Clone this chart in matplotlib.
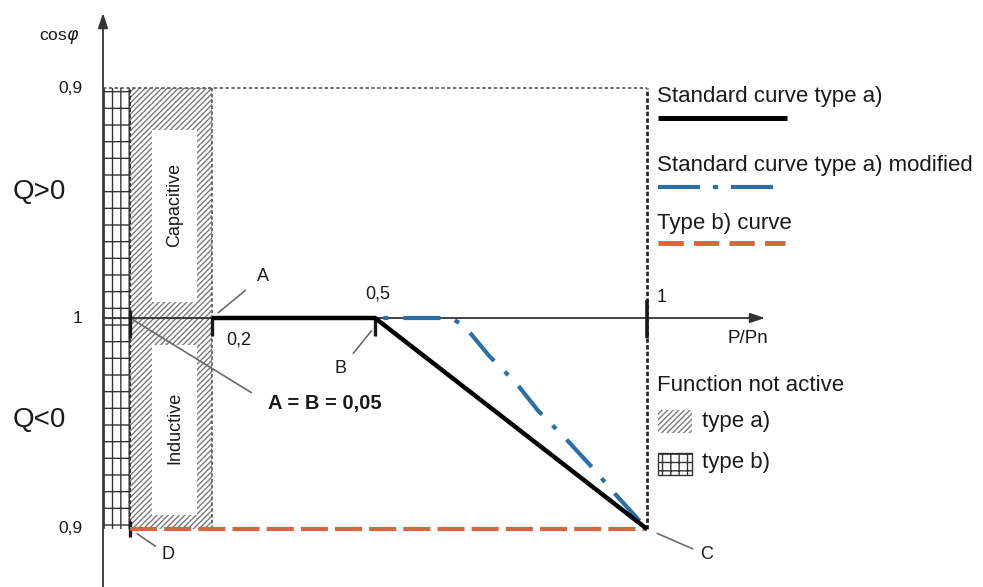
import numpy as np
import matplotlib.pyplot as plt
from matplotlib.patches import Rectangle

plt.rcParams['font.family'] = ['Liberation Sans', 'DejaVu Sans']
plt.rcParams['hatch.linewidth'] = 1.0

# P/Pn on x, cos(phi) as deviation from 1 on y (+ capacitive, - inductive)
STD_X = [0.2, 0.5, 1.0]
STD_Y = [0.0, 0.0, -0.1]
MOD_X = [0.5, 0.64, 0.665, 0.71, 0.76, 0.80, 0.85, 0.90, 0.94, 1.0]
MOD_Y = [0.0, 0.0, -0.004, -0.018, -0.031, -0.044, -0.057, -0.071, -0.083, -0.1]
TYPEB_X = [0.05, 1.0]
TYPEB_Y = [-0.1, -0.1]

P_OFF_B = 0.05   # type b) not active below this
P_OFF_A = 0.2    # type a) not active below this
COS_DEV = 0.1    # cos phi = 0,9

X_TICKS = [0.2, 0.5, 1.0]
X_TICK_LABELS = ['0,2', '0,5', '1']
Y_TICKS = [0.1, 0.0, -0.1]
Y_TICK_LABELS = ['0,9', '1', '0,9']

INK = '#1a1a1a'
BLUE = '#2c6fa6'
ORANGE = '#d8653d'

# capacitive half is drawn a little taller than the inductive half
UP = 230 / 211


def fwd(y):
    y = np.asarray(y, dtype=float)
    return np.where(y > 0, y * UP, y)


def inv(v):
    v = np.asarray(v, dtype=float)
    return np.where(v > 0, v / UP, v)


fig = plt.figure(figsize=(9.83, 5.87), dpi=100)
ax = fig.add_axes([0, 0, 1, 1])
ax.set_yscale('function', functions=(fwd, inv))
ax.set_xlim(-0.18934, 1.61765)
ax.set_ylim(-0.12749, 0.13827)
ax.axis('off')

# zones where the function is not active
ax.add_patch(Rectangle((P_OFF_B, -COS_DEV), P_OFF_A - P_OFF_B, 2 * COS_DEV,
                       facecolor='white', edgecolor='#7a7a7a', hatch='//////',
                       lw=0, zorder=1))
ax.add_patch(Rectangle((0, -COS_DEV), P_OFF_B, 2 * COS_DEV,
                       facecolor='white', edgecolor='#333333', hatch='||',
                       lw=0, zorder=1))
ax.add_patch(Rectangle((0, -COS_DEV), P_OFF_B, 2 * COS_DEV,
                       fill=False, edgecolor='#333333', hatch='-',
                       lw=0, zorder=1))

# white label panels inside the hatched zone
ax.add_patch(Rectangle((0.09, 0.007), 0.083, 0.0747,
                       facecolor='white', lw=0, zorder=2))
ax.add_patch(Rectangle((0.09, -0.0934), 0.083, 0.0806,
                       facecolor='white', lw=0, zorder=2))
ax.text(0.1315, 0.049, 'Capacitive', rotation=90, ha='center', va='center',
        fontsize=13, color=INK, zorder=3)
ax.text(0.1315, -0.052, 'Inductive', rotation=90, ha='center', va='center',
        fontsize=13, color=INK, zorder=3)

# zone borders and the cos phi = 0,9 frame
ax.vlines(P_OFF_B, -COS_DEV, COS_DEV, colors='#333333', lw=1.4,
          linestyles=(0, (2, 1.2)), zorder=3)
ax.vlines(P_OFF_A, -COS_DEV, COS_DEV, colors='#555555', lw=1.2,
          linestyles=(0, (2, 1.5)), zorder=3)
ax.hlines(COS_DEV, 0, 1.0, colors='#555555', lw=1.2,
          linestyles=(0, (2, 1.5)), zorder=3)
ax.hlines(0, 0, P_OFF_A, colors='#555555', lw=1.0,
          linestyles=(0, (2, 1.5)), zorder=3)
ax.vlines(1.0, -COS_DEV, COS_DEV, colors='#2a2a2a', lw=2.0,
          linestyles=(0, (1.6, 0.8)), zorder=3)

# axes with arrow heads
arrow = dict(arrowstyle='-|>,head_length=0.9,head_width=0.3', color='#333333',
             lw=1.3, shrinkA=0, shrinkB=0)
ax.annotate('', xy=(0, 0.1326), xytext=(0, -0.1275), arrowprops=arrow, zorder=4)
ax.annotate('', xy=(1.217, 0), xytext=(0, 0), arrowprops=arrow, zorder=4)

# short tick marks at the key points
ax.vlines([P_OFF_B], -0.0095, 0.0035, colors=INK, lw=2.4, zorder=5)
ax.vlines([P_OFF_A, 0.5], -0.0085, 0.0, colors=INK, lw=2.4, zorder=5)
ax.vlines([1.0], -0.0095, 0.008, colors=INK, lw=2.6, zorder=5)
ax.vlines([P_OFF_B], -0.104, -0.096, colors=INK, lw=2.4, zorder=5)

# curves
ax.plot(TYPEB_X, TYPEB_Y, color=ORANGE, lw=3.0,
        linestyle=(0, (6.5, 1.7)), zorder=6)
ax.plot(MOD_X, MOD_Y, color=BLUE, lw=3.0,
        linestyle=(10.5, (8.9, 3.6, 1.2, 3.6)), zorder=6)
ax.plot(STD_X, STD_Y, color='black', lw=3.2, solid_capstyle='butt', zorder=7)

# tick labels
for x, lab, off in zip(X_TICKS, X_TICK_LABELS, [(27, -22), (3, 24), (15, 21)]):
    ax.annotate(lab, xy=(x, 0), xytext=off, textcoords='offset pixels',
                ha='center', va='center', fontsize=13, color=INK)
for y, lab in zip(Y_TICKS, Y_TICK_LABELS):
    ax.annotate(lab, xy=(0, y), xytext=(-21, 0), textcoords='offset pixels',
                ha='right', va='center', fontsize=12.5, color=INK)
ax.annotate('cos$\\varphi$', xy=(0, 0.1326), xytext=(-44, -24),
            textcoords='offset pixels', ha='center', va='center',
            fontsize=12.5, color=INK)
ax.annotate('P/Pn', xy=(1.217, 0), xytext=(-17, -20),
            textcoords='offset pixels', ha='center', va='center',
            fontsize=13.5, color=INK)

ax.text(0.0397, 0.6729, 'Q>0', transform=ax.transAxes, ha='center',
        va='center', fontsize=20, color=INK)
ax.text(0.0397, 0.2845, 'Q<0', transform=ax.transAxes, ha='center',
        va='center', fontsize=20, color=INK)

# point names with leader lines
lead = dict(arrowstyle='-', color='#6a6a6a', lw=1.2)
ax.annotate('A', xy=(P_OFF_A, 0), xytext=(51, 42), textcoords='offset pixels',
            ha='center', va='center', fontsize=13, color=INK,
            arrowprops=dict(lead, shrinkA=8, shrinkB=6))
ax.annotate('B', xy=(0.5, -0.004), xytext=(-34, -42), textcoords='offset pixels',
            ha='center', va='center', fontsize=13, color=INK,
            arrowprops=dict(lead, shrinkA=4, shrinkB=4))
ax.annotate('C', xy=(1.0, -COS_DEV), xytext=(60, -26), textcoords='offset pixels',
            ha='center', va='center', fontsize=13, color=INK,
            arrowprops=dict(lead, shrinkA=4, shrinkB=8))
ax.annotate('D', xy=(P_OFF_B, -COS_DEV), xytext=(38, -26),
            textcoords='offset pixels', ha='center', va='center',
            fontsize=13, color=INK,
            arrowprops=dict(lead, shrinkA=3, shrinkB=6))
ax.annotate('A = B = 0,05', xy=(P_OFF_B, 0), xytext=(138, -85),
            textcoords='offset pixels', ha='left', va='center',
            fontsize=14.5, fontweight='bold', color=INK,
            arrowprops=dict(lead, shrinkA=12, shrinkB=0, relpos=(0, 0.5)))

# legend drawn beside the chart
lx0 = 0.6684
ax.text(lx0, 0.8348, 'Standard curve type a)', transform=ax.transAxes,
        ha='left', va='center', fontsize=16, color=INK)
ax.plot([0.6694, 0.8006], [0.7990, 0.7990], transform=ax.transAxes,
        color='black', lw=3.6, solid_capstyle='butt')
ax.text(lx0, 0.7189, 'Standard curve type a) modified', transform=ax.transAxes,
        ha='left', va='center', fontsize=16, color=INK)
ax.plot([0.6694, 0.7884], [0.6814, 0.6814], transform=ax.transAxes,
        color=BLUE, lw=3.0, linestyle=(0, (10.1, 3.1, 1.2, 3.1)))
ax.text(lx0, 0.6201, 'Type b) curve', transform=ax.transAxes,
        ha='left', va='center', fontsize=16, color=INK)
ax.plot([0.6694, 0.7986], [0.5860, 0.5860], transform=ax.transAxes,
        color=ORANGE, lw=3.5, linestyle=(0, (5.2, 2.1)))

ax.text(lx0, 0.3441, 'Function not active', transform=ax.transAxes,
        ha='left', va='center', fontsize=16, color=INK)
ax.add_patch(Rectangle((0.6694, 0.2624), 0.0346, 0.0392, transform=ax.transAxes,
                       facecolor='white', edgecolor='#7a7a7a', hatch='//////',
                       lw=0))
ax.text(0.7141, 0.2811, 'type a)', transform=ax.transAxes,
        ha='left', va='center', fontsize=16, color=INK)
ax.add_patch(Rectangle((0.6694, 0.1908), 0.0346, 0.0375, transform=ax.transAxes,
                       facecolor='white', edgecolor='#333333', hatch='++',
                       lw=1.0))
ax.text(0.7141, 0.2129, 'type b)', transform=ax.transAxes,
        ha='left', va='center', fontsize=16, color=INK)

fig.savefig('out.png', dpi=100)
